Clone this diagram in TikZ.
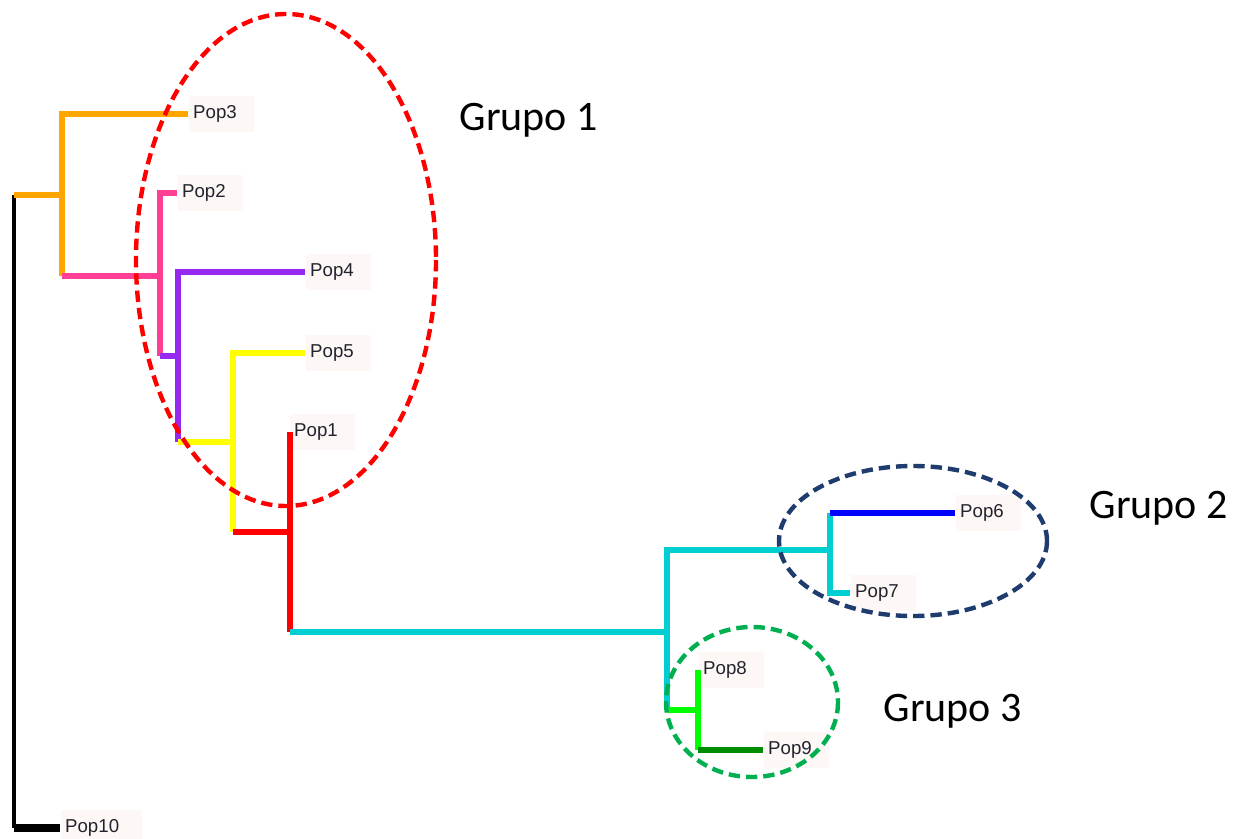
\documentclass[tikz,border=0pt]{standalone}
\usepackage{fontspec}
\setmainfont{Liberation Sans}
\newfontfamily\grupofont{Carlito}

\definecolor{bOrangeC}{RGB}{255,165,0}
\definecolor{bPinkC}{RGB}{255,62,150}
\definecolor{bPurpleC}{RGB}{150,40,240}
\definecolor{bYellowC}{RGB}{255,255,0}
\definecolor{bRedC}{RGB}{255,0,0}
\definecolor{bCyanC}{RGB}{0,206,209}
\definecolor{bBlueC}{RGB}{0,0,255}
\definecolor{bGreenC}{RGB}{0,255,0}
\definecolor{bDkGreenC}{RGB}{0,140,0}
\definecolor{navyC}{RGB}{30,60,110}
\definecolor{grnC}{RGB}{0,176,80}
\definecolor{labelbg}{RGB}{253,247,246}
\definecolor{labeltext}{RGB}{35,35,45}

\tikzset{every picture/.style={line width=0.75pt}}
\tikzset{
  branch/.style={line width=5pt, line join=miter},
  popbox/.style={anchor=west, fill=labelbg, inner xsep=3.5pt, inner ysep=0pt,
    minimum height=27pt, text width=42pt, align=left,
    font=\fontsize{14}{16}\selectfont, text=labeltext},
  grupo/.style={anchor=base west, inner sep=0pt, font=\grupofont\fontsize{31.5}{36}\selectfont},
  grupoline/.style={line width=3.3pt, dash pattern={on 8.5pt off 4.5pt}}
}

\begin{document}
\begin{tikzpicture}[x=0.75pt,y=0.75pt,yscale=-1,xscale=1]
	\useasboundingbox (0,0) rectangle (1244,838);

	% Text Node
	\node[popbox] (pop3) at (188,114) {Pop3};
	\node[popbox] (pop2) at (177,193) {Pop2};
	\node[popbox] (pop4) at (305,272) {Pop4};
	\node[popbox] (pop5) at (305,353) {Pop5};
	\node[popbox] (pop1) at (289,432) {Pop1};
	\node[popbox] (pop6) at (955,513) {Pop6};
	\node[popbox] (pop7) at (850,593) {Pop7};
	\node[popbox] (pop8) at (698,670) {Pop8};
	\node[popbox] (pop9) at (763,750) {Pop9};
	\node[popbox, text width=54pt] (pop10) at (60,828) {Pop10};

	% junctions
	\coordinate (root) at (14,195);
	\coordinate (k1) at (62,195);
	\coordinate (k2) at (160,276);
	\coordinate (k3) at (178,356);
	\coordinate (k4) at (233,442);
	\coordinate (k5) at (290,532);
	\coordinate (k6) at (667,632);
	\coordinate (k7) at (830,550);
	\coordinate (k8) at (698,710);

	% root
	\draw[line width=2.5pt] (root) -- (root |- pop10.west);
	\draw[branch, line width=5.5pt] (root |- pop10.west) -- (pop10.west);
	% orange clade
	\draw[branch, bOrangeC] (root) -- (k1);
	\draw[branch, bOrangeC] (pop3.west) -| (k1) -- (k1 |- k2);
	% pink clade
	\draw[branch, bPinkC] (k1 |- k2) -- (k2);
	\draw[branch, bPinkC] (pop2.west) -| (k2 |- k3);
	% purple clade
	\draw[branch, bPurpleC] (k2 |- k3) -- (k3);
	\draw[branch, bPurpleC] (pop4.west) -| (k3 |- k4);
	% yellow clade
	\draw[branch, bYellowC] (k3 |- k4) -- (k4);
	\draw[branch, bYellowC] (pop5.west) -| (k4 |- k5);
	% red clade
	\draw[branch, bRedC] (k4 |- k5) -- (k5);
	\draw[branch, bRedC] (k5 |- pop1.west) -- (k5 |- k6);
	% cyan clade
	\draw[branch, bCyanC] (k5 |- k6) -- (k6);
	\draw[branch, bCyanC] (k7) -- (k6 |- k7) -- (k6 |- k8);
	\draw[branch, bCyanC] (k7 |- pop6.west) -- (k7 |- pop7.west) -- (pop7.west);
	\draw[branch, bBlueC] (k7 |- pop6.west) -- (pop6.west);
	% green clade
	\draw[branch, bGreenC] (k6 |- k8) -- (k8);
	\draw[branch, bGreenC] (k8 |- pop8.west) -- (k8 |- pop9.west);
	\draw[branch, bDkGreenC] (k8 |- pop9.west) -- (pop9.west);

	% groups
	\draw[grupoline, bRedC] (286,260) ellipse [x radius=150, y radius=246];
	\draw[grupoline, navyC] (913,541) ellipse [x radius=134, y radius=75];
	\draw[grupoline, grnC] (752,702) ellipse [x radius=86, y radius=75];

	% Text Node
	\node[grupo] (g1) at (459,131) {Grupo 1};
	\node[grupo] (g2) at (1089,518) {Grupo 2};
	\node[grupo] (g3) at (883,721) {Grupo 3};

\end{tikzpicture}
\end{document}
